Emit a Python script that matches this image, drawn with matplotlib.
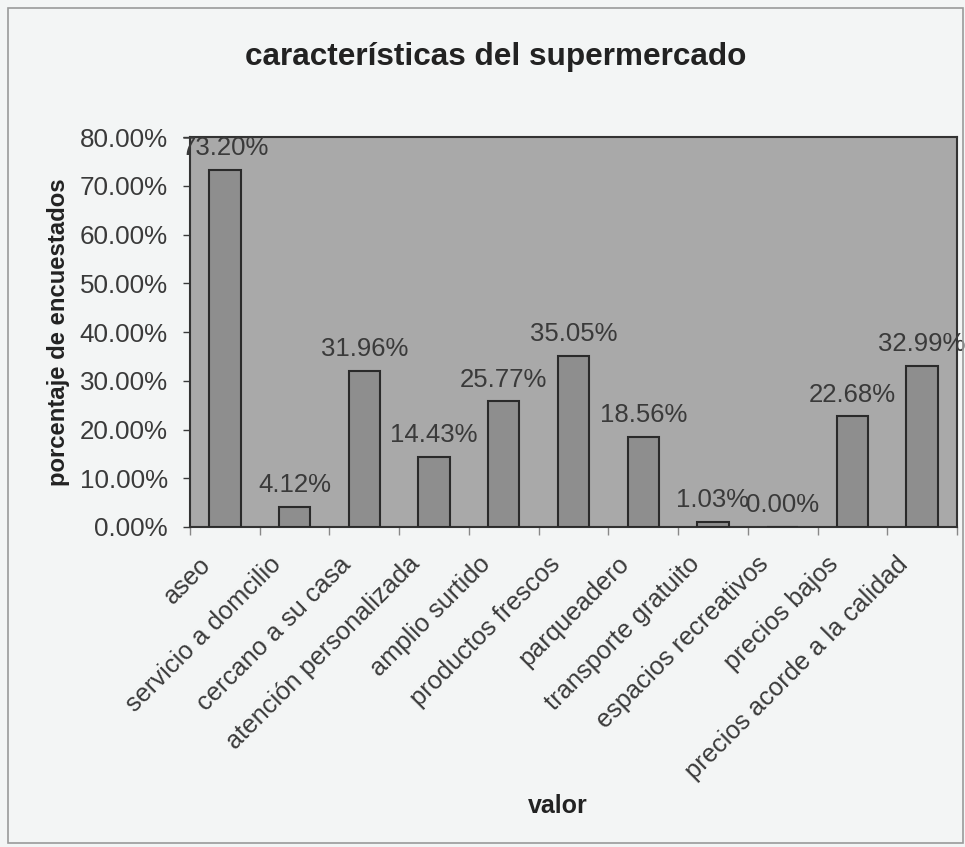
import matplotlib
matplotlib.use("Agg")
import matplotlib.pyplot as plt
from matplotlib.patches import Rectangle
from matplotlib.ticker import MultipleLocator, FuncFormatter, FixedLocator
from matplotlib.transforms import ScaledTranslation

categories = ["aseo", "servicio a domcilio", "cercano a su casa", "atención personalizada",
              "amplio surtido", "productos frescos", "parqueadero", "transporte gratuito",
              "espacios recreativos", "precios bajos", "precios acorde a la calidad"]
values = [73.20, 4.12, 31.96, 14.43, 25.77, 35.05, 18.56, 1.03, 0.00, 22.68, 32.99]
value_labels = ["73.20%", "4.12%", "31.96%", "14.43%", "25.77%", "35.05%", "18.56%",
                "1.03%", "0.00%", "22.68%", "32.99%"]

plt.rcParams['font.family'] = ['Liberation Sans', 'DejaVu Sans']

fig = plt.figure(figsize=(9.65, 8.47), dpi=100)
fig.patch.set_facecolor('#f3f5f5')
fig.patches.append(Rectangle((8/965, 4/847), 955/965, 835/847, transform=fig.transFigure,
                             fill=False, edgecolor='#9a9a9a', linewidth=1.2))

ax = fig.add_axes([190/965, 320/847, 767/965, 390/847])
ax.set_facecolor('#a9a9a9')
x = list(range(len(categories)))
ax.bar(x, values, width=0.45, color='#8e8e8e', edgecolor='#2a2a2a', linewidth=1.5, zorder=3)
ax.set_xlim(-0.5, len(categories) - 0.5)
ax.set_ylim(0, 80)
ax.yaxis.set_major_locator(MultipleLocator(10))
ax.yaxis.set_major_formatter(FuncFormatter(lambda v, p: f"{v:.2f}%"))
ax.tick_params(axis='y', labelsize=18.7, colors='#3a3a3a', length=5, width=1, pad=11)
ax.xaxis.set_major_locator(FixedLocator(x))
ax.xaxis.set_minor_locator(FixedLocator([i - 0.5 for i in range(len(categories) + 1)]))
ax.set_xticklabels(categories, rotation=45, ha='right', rotation_mode='anchor',
                   fontsize=18.3, color='#3a3a3a')
ax.tick_params(axis='x', which='major', length=0, pad=18)
ax.tick_params(axis='x', which='minor', length=6, width=1, colors='#888888')
shift = ScaledTranslation(-26/100, 0, fig.dpi_scale_trans)
for lbl in ax.get_xticklabels():
    lbl.set_transform(lbl.get_transform() + shift)
for s in ax.spines.values():
    s.set_color('#333333')
    s.set_linewidth(1.5)

for xi, v, lab in zip(x, values, value_labels):
    ax.annotate(lab, (xi, v), xytext=(0, 7), textcoords='offset points',
                ha='center', va='bottom', fontsize=18.5, color='#3a3a3a',
                annotation_clip=False, zorder=5)

fig.text(496/965, 1 - 57/847, "características del supermercado", ha='center', va='center',
         fontsize=22.7, fontweight='bold', color='#222222')
ax.set_ylabel("porcentaje de encuestados", fontsize=17.2, fontweight='bold', color='#222222',
              labelpad=7)
fig.text(558/965, 1 - 806/847, "valor", ha='center', va='center',
         fontsize=18, fontweight='bold', color='#222222')

fig.savefig("out.png", dpi=100, facecolor=fig.get_facecolor())
